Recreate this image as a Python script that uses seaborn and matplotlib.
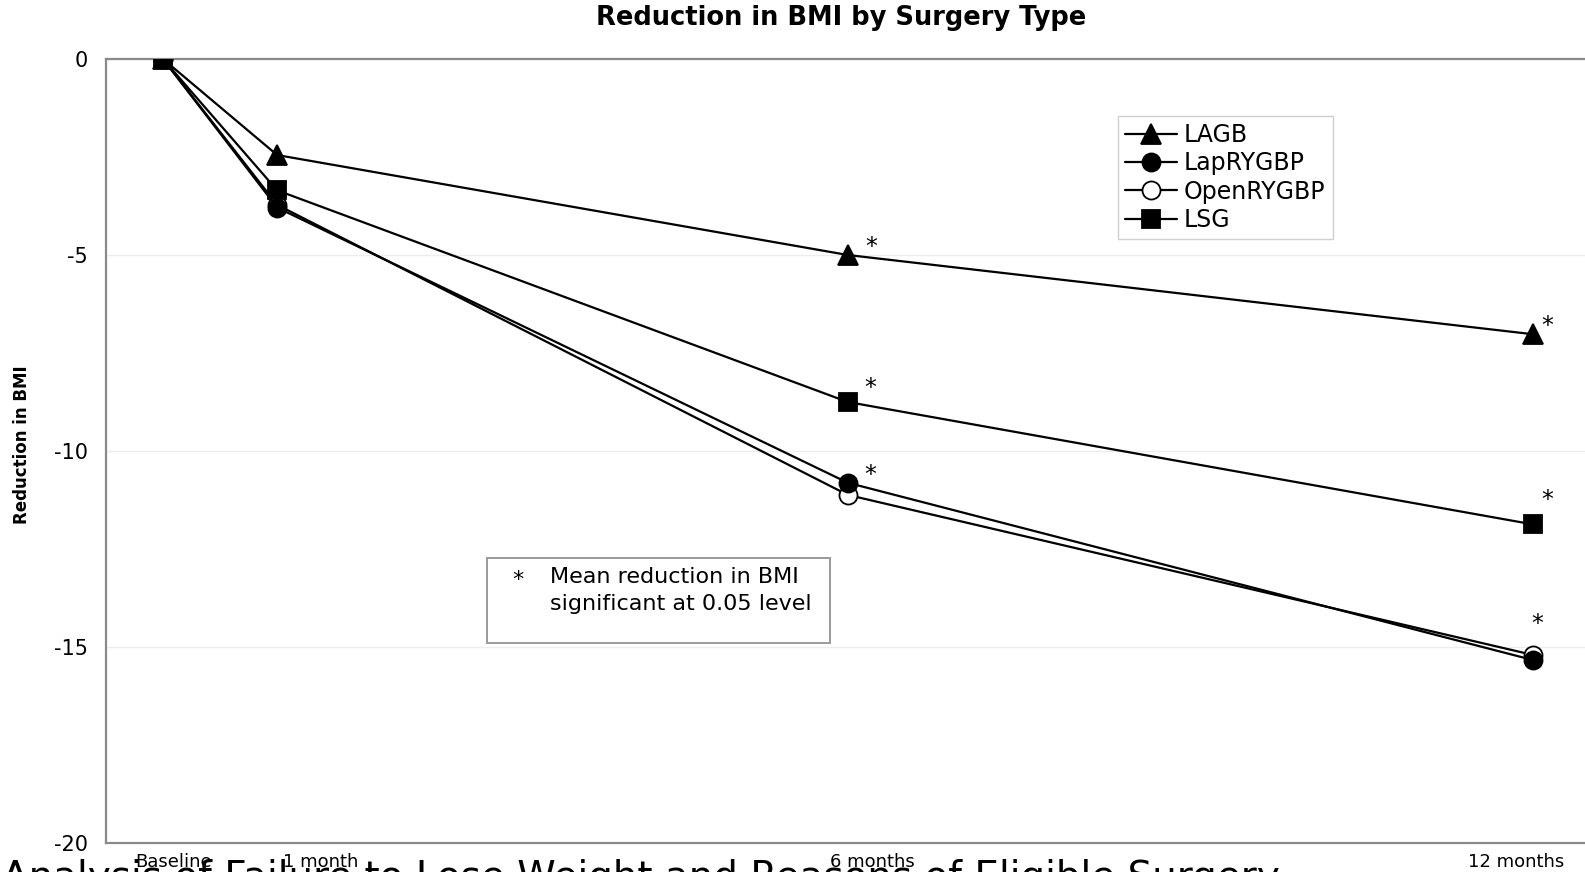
import numpy as np
import pandas as pd
import matplotlib
matplotlib.use("Agg")
import matplotlib.pyplot as plt
import matplotlib.transforms as mtransforms
from matplotlib.patches import Rectangle
from matplotlib.lines import Line2D
from matplotlib import font_manager
import seaborn as sns

# ---------------- data ----------------
months = [0, 1, 6, 12]
time_labels = ["Baseline", "1 month", "6 months", "12 months"]
series_names = ["LAGB", "LapRYGBP", "OpenRYGBP", "LSG"]
lagb = [0, -2.45, -5.0, -7.02]
laprygbp = [0, -3.79, -10.81, -15.33]
openrygbp = [0, -3.72, -11.12, -15.2]
lsg = [0, -3.35, -8.75, -11.87]
sig_6mo = ["LAGB", "LSG", "LapRYGBP"]
sig_12mo = ["LAGB", "LSG", "LapRYGBP"]
y_ticks = [0, -5, -10, -15, -20]
title = "Reduction in BMI by Surgery Type"
y_label = "Reduction in BMI"
note_star = "*"
note_lines = ["Mean reduction in BMI", "significant at 0.05 level"]
caption = "Analysis of Failure to Lose Weight and Reasons of Eligible Surgery"

values = {"LAGB": lagb, "LapRYGBP": laprygbp, "OpenRYGBP": openrygbp, "LSG": lsg}
df = pd.DataFrame([
    {"series": s, "month": m, "bmi": v}
    for s in series_names for m, v in zip(months, values[s])
])

# ---------------- style ----------------
sns.set_theme(style="white")
plt.rcParams["font.family"] = ["DejaVu Sans"]
plt.rcParams["axes.unicode_minus"] = False
plt.rcParams["text.color"] = "black"
names = {f.name for f in font_manager.fontManager.ttflist}
narrow = "Liberation Sans Narrow" if "Liberation Sans Narrow" in names else "DejaVu Sans"

W, H = 1585, 872
fig = plt.figure(figsize=(W / 100, H / 100), dpi=100)
ax_left, ax_top, ax_bottom, ax_right = 106, 59, 843, 1600
ax = fig.add_axes([ax_left / W, 1 - ax_bottom / H, (ax_right - ax_left) / W, (ax_bottom - ax_top) / H])

styles = {
    "LAGB": dict(marker="^", markersize=14, markerfacecolor="black"),
    "LapRYGBP": dict(marker="o", markersize=13, markerfacecolor="black"),
    "OpenRYGBP": dict(marker="o", markersize=13, markerfacecolor="white"),
    "LSG": dict(marker="s", markersize=13, markerfacecolor="black"),
}
order = ["OpenRYGBP", "LAGB", "LSG", "LapRYGBP"]
for z, name in enumerate(order):
    sub = df[df["series"] == name]
    sns.lineplot(data=sub, x="month", y="bmi", ax=ax, color="black", lw=1.6,
                 markeredgecolor="black", markeredgewidth=1.3, legend=False,
                 zorder=3 + z, **styles[name])

# significance stars (offsets in pixels)
star_offsets = {("LAGB", 6): (23, -8), ("LSG", 6): (22, -14), ("LapRYGBP", 6): (22, -8),
                ("LAGB", 12): (15, -8), ("LSG", 12): (15, -24), ("LapRYGBP", 12): (5, -36)}
for m, sig in ((6, sig_6mo), (12, sig_12mo)):
    for s in sig:
        yv = values[s][months.index(m)]
        dx, dy = star_offsets[(s, m)]
        ax.annotate("*", xy=(m, yv), xytext=(dx * 0.72, -dy * 0.72), textcoords="offset points",
                    ha="center", va="center", fontsize=17, color="black", zorder=10)

# axes
x0_px, x12_px = 163, 1532.5
ppm = (x12_px - x0_px) / 12
ax.set_xlim((ax_left - x0_px) / ppm, (ax_right - x0_px) / ppm)
ax.set_ylim(-20, 0)
ax.set_yticks(y_ticks)
ax.set_yticklabels([str(t) for t in y_ticks])
ax.set_xticks(months)
ax.set_xticklabels(time_labels)
ax.set_xlabel("")
ax.set_ylabel("")
ax.tick_params(axis="y", length=5, color="#c8c8c8", width=1, pad=8, labelsize=15, labelcolor="black")
ax.tick_params(axis="x", length=0, pad=7, labelsize=13, labelcolor="black")
for lab in ax.get_xticklabels():
    lab.set_fontfamily(narrow)
    if narrow != "DejaVu Sans":
        lab.set_fontsize(16)
label_shift = [11, 44, 25, -16]
for lab, dx in zip(ax.get_xticklabels(), label_shift):
    lab.set_transform(lab.get_transform() + mtransforms.ScaledTranslation(dx / 100, 0, fig.dpi_scale_trans))

ax.yaxis.grid(True, color="#ededed", lw=1)
ax.xaxis.grid(False)
for side in ["left", "top", "bottom", "right"]:
    ax.spines[side].set_color("#8a8a8a")
    ax.spines[side].set_linewidth(1.6)

# legend
handles = [Line2D([0], [0], color="black", lw=1.6, markeredgecolor="black", markeredgewidth=1.3,
                  **styles[n]) for n in series_names]
leg = ax.legend(handles, series_names, loc="upper left", bbox_to_anchor=(1118 / W, 1 - 116 / H),
                bbox_transform=fig.transFigure, frameon=True, fancybox=False, framealpha=1,
                edgecolor="#d0d0d0", fontsize=17, handlelength=2.2, handletextpad=0.3,
                labelspacing=0.18, borderpad=0.3, borderaxespad=0)
leg.get_frame().set_linewidth(1.0)
leg.set_zorder(20)
for t in leg.get_texts():
    t.set_color("black")

# note box
fig.add_artist(Rectangle((487 / W, 1 - 643 / H), 343 / W, 85 / H, transform=fig.transFigure,
                         fill=False, edgecolor="#9a9a9a", lw=1.4))
fig.text(518 / W, 1 - 580 / H, note_star, ha="center", va="center", fontsize=16)
fig.text(550 / W, 1 - 577 / H, note_lines[0], ha="left", va="center", fontsize=16)
fig.text(550 / W, 1 - 604 / H, note_lines[1], ha="left", va="center", fontsize=16)

# title and y label
fig.text(841 / W, 1 - 18 / H, title, ha="center", va="center", fontsize=18.5, fontweight="bold")
fig.text(22 / W, 1 - 445 / H, y_label, ha="center", va="center", rotation=90, fontweight="bold",
         fontsize=16 if narrow != "DejaVu Sans" else 12, fontfamily=narrow)

# clipped caption at the bottom
fig.text(2 / W, (H - 889) / H, caption, ha="left", va="baseline", fontsize=28)

fig.savefig("out.png", dpi=100)
